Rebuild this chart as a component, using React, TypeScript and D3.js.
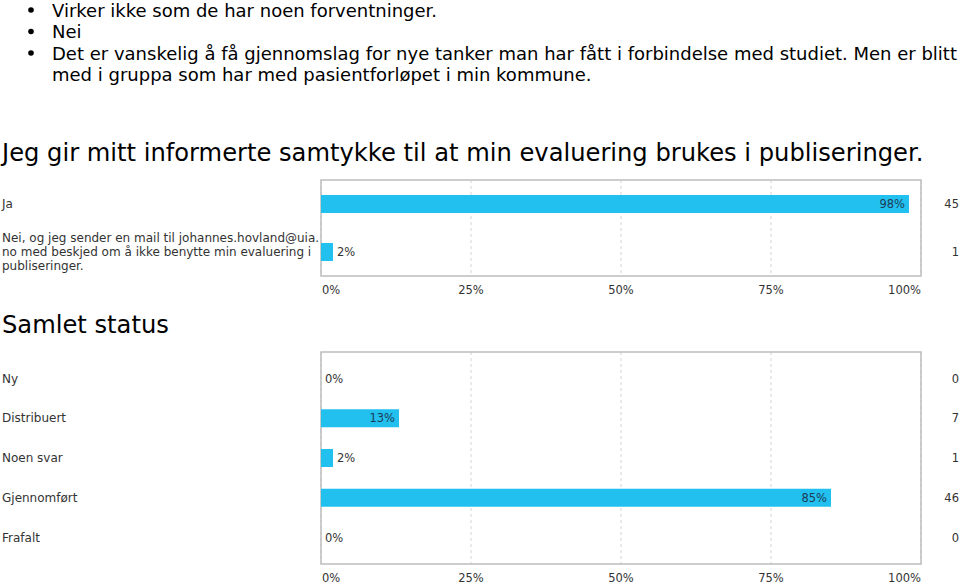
import React from "react";
import * as d3 from "d3";

const bulletLines = [
  "Virker ikke som de har noen forventninger.",
  "Nei",
  "Det er vanskelig å få gjennomslag for nye tanker man har fått i forbindelse med studiet. Men er blitt",
];
const bulletContinuation = "med i gruppa som har med pasientforløpet i min kommune.";

const title1 = "Jeg gir mitt informerte samtykke til at min evaluering brukes i publiseringer.";
const cats1 = ["Ja", "Nei, og jeg sender en mail til johannes.hovland@uia.|no med beskjed om å ikke benytte min evaluering i|publiseringer."];
const pct1 = [98, 2];
const counts1 = [45, 1];

const title2 = "Samlet status";
const cats2 = ["Ny", "Distribuert", "Noen svar", "Gjennomført", "Frafalt"];
const pct2 = [0, 13, 2, 85, 0];
const counts2 = [0, 7, 1, 46, 0];

const ticks = [0, 25, 50, 75, 100];

const FONT = "'DejaVu Sans', Verdana, sans-serif";
const BAR = "#22c0ef";
const TXT = "#333333";

function BarChart({ cats, pct, counts, top, bottom, pad }: { cats: string[]; pct: number[]; counts: number[]; top: number; bottom: number; pad: number }) {
  const x = d3.scaleLinear().domain([0, 100]).range([321, 921]);
  const y = d3.scalePoint<string>().domain(cats).range([top, bottom]).padding(pad);
  const barH = 18;
  return (
    <g fontFamily={FONT} fontSize={11.5}>
      {ticks.map((t) => (
        <line key={t} x1={x(t)} x2={x(t)} y1={top} y2={bottom} stroke="#d4d4d4" strokeDasharray="3,3" />
      ))}
      <rect x={x(0)} y={top} width={x(100) - x(0)} height={bottom - top} fill="none" stroke="#bdbdbd" strokeWidth={1.5} />
      {cats.map((c, i) => {
        const cy = y(c)!;
        const lines = c.split("|");
        const w = x(pct[i]) - x(0);
        const inside = pct[i] >= 10;
        return (
          <g key={c}>
            {lines.map((l, j) => (
              <text key={j} x={2} y={cy + (j - (lines.length - 1) / 2) * 14} dy="0.35em" fill={TXT} fontSize={12}>
                {l}
              </text>
            ))}
            {w > 0 && <rect x={x(0)} y={cy - barH / 2} width={w} height={barH} fill={BAR} />}
            <text
              x={inside ? x(pct[i]) - 4 : x(pct[i]) + 4}
              y={cy}
              dy="0.35em"
              textAnchor={inside ? "end" : "start"}
              fill={inside ? "#1d3c57" : TXT}
            >
              {pct[i] + "%"}
            </text>
            <text x={959} y={cy} dy="0.35em" textAnchor="end" fill={TXT}>
              {counts[i]}
            </text>
          </g>
        );
      })}
      {ticks.map((t, i) => (
        <text
          key={t}
          x={i === 0 ? x(t) + 1 : x(t)}
          y={bottom + 14}
          dy="0.35em"
          textAnchor={i === 0 ? "start" : i === ticks.length - 1 ? "end" : "middle"}
          fill={TXT}
        >
          {t + "%"}
        </text>
      ))}
    </g>
  );
}

export default function App() {
  return (
    <svg width={960} height={585} style={{ position: "absolute", left: 0, top: 0, background: "#fff" }}>
      <g fontFamily={FONT} fontSize={18} fill="#000">
        {bulletLines.map((l, i) => (
          <g key={i}>
            <circle cx={31} cy={10 + i * 21.5} r={2.8} fill="#000" />
            <text x={52} y={16.5 + i * 21.5}>{l}</text>
          </g>
        ))}
        <text x={52} y={16.5 + 3 * 21.5}>{bulletContinuation}</text>
      </g>
      <text x={2} y={161} fontFamily={FONT} fontSize={24.2} fill="#000">{title1}</text>
      <BarChart cats={cats1} pct={pct1} counts={counts1} top={180} bottom={276} pad={0.5} />
      <text x={2} y={333} fontFamily={FONT} fontSize={24.2} fill="#000">{title2}</text>
      <BarChart cats={cats2} pct={pct2} counts={counts2} top={352} bottom={564} pad={0.667} />
    </svg>
  );
}
